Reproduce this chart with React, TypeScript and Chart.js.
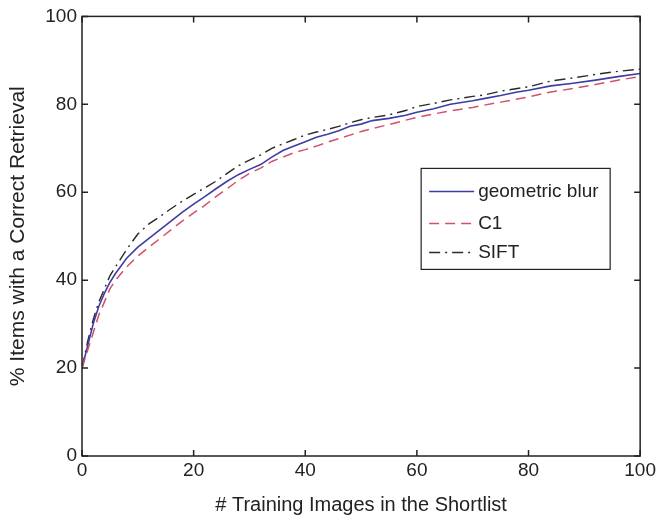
import React, { useEffect, useRef } from 'react';
import { Chart, registerables } from 'chart.js';

Chart.register(...registerables);

// ---- Data ----
const shortlistSizes = [0, 1, 2, 3, 4, 5, 6, 8, 10, 12, 14, 16, 18, 20, 22, 24, 26, 28, 30, 32, 34, 36, 38, 40, 42, 44, 46, 48, 50, 52, 55, 58, 60, 63, 66, 70, 72, 75, 78, 80, 84, 88, 92, 96, 100];
const geometricBlur = [20, 25, 30, 34, 37, 39.5, 41.5, 45, 47.5, 49.5, 51.5, 53.5, 55.5, 57.3, 59, 60.8, 62.5, 64, 65.2, 66.3, 68, 69.5, 70.5, 71.5, 72.5, 73.2, 74, 75, 75.5, 76.3, 76.8, 77.5, 78.2, 79, 80, 80.8, 81.3, 82, 82.8, 83.2, 84.2, 84.8, 85.5, 86.3, 87];
const c1 = [20, 24, 28, 32, 35, 38, 40, 43, 45.5, 47.5, 49.5, 51.5, 53.5, 55.3, 57, 59, 60.8, 62.7, 64.3, 65.5, 67, 68, 69, 69.7, 70.5, 71.4, 72.2, 73, 73.8, 74.5, 75.4, 76.4, 77, 77.8, 78.5, 79.3, 79.8, 80.5, 81.2, 81.7, 82.8, 83.6, 84.5, 85.5, 86.3];
const sift = [20, 26, 31, 35, 38, 41, 43, 47, 50.5, 52.8, 54.5, 56.3, 58, 59.5, 61, 62.5, 64.3, 66, 67.3, 68.5, 70, 71, 72, 73, 73.7, 74.3, 75, 75.8, 76.5, 77, 77.6, 78.6, 79.5, 80.2, 81, 81.8, 82.1, 83, 83.6, 84, 85.3, 86, 86.8, 87.5, 88];
const seriesLabels = ['geometric blur', 'C1', 'SIFT'];
const xTicks = [0, 20, 40, 60, 80, 100];
const yTicks = [0, 20, 40, 60, 80, 100];
const xTitle = '# Training Images in the Shortlist';
const yTitle = '% Items with a Correct Retrieval';

const W = 659;
const H = 517;
const FONT = "'Liberation Sans', Arial, Helvetica, sans-serif";
const TEXT = '#222';

const styles = [
  { color: '#3d3da3', dash: [] as number[] },
  { color: '#d4506a', dash: [10, 6] },
  { color: '#2a2a2a', dash: [11, 5, 2, 5] },
];

const toPts = (ys: number[]) => shortlistSizes.map((x, i) => ({ x, y: ys[i] }));

const framePlugin = {
  id: 'frameAndLegend',
  afterDatasetsDraw(chart: any) {
    const { ctx, chartArea, scales } = chart;
    const { left, right, top, bottom } = chartArea;
    const xs = scales.x;
    const ys = scales.y;
    ctx.save();
    ctx.strokeStyle = '#222';
    ctx.lineWidth = 1.5;
    ctx.setLineDash([]);
    ctx.strokeRect(left, top, right - left, bottom - top);
    const tl = 6;
    ctx.beginPath();
    for (const v of xTicks) {
      const px = xs.getPixelForValue(v);
      ctx.moveTo(px, bottom);
      ctx.lineTo(px, bottom - tl);
      ctx.moveTo(px, top);
      ctx.lineTo(px, top + tl);
    }
    for (const v of yTicks) {
      const py = ys.getPixelForValue(v);
      ctx.moveTo(left, py);
      ctx.lineTo(left + tl, py);
      ctx.moveTo(right, py);
      ctx.lineTo(right - tl, py);
    }
    ctx.stroke();

    // legend
    const bx = right - 219;
    const by = top + 152;
    const bw = 189;
    const bh = 101;
    ctx.fillStyle = '#fff';
    ctx.fillRect(bx, by, bw, bh);
    ctx.lineWidth = 1.2;
    ctx.strokeStyle = '#222';
    ctx.strokeRect(bx, by, bw, bh);
    ctx.font = `19px ${FONT}`;
    ctx.textBaseline = 'middle';
    ctx.textAlign = 'left';
    const rowsY = [23, 55, 84];
    seriesLabels.forEach((lab, i) => {
      const yy = by + rowsY[i];
      ctx.strokeStyle = styles[i].color;
      ctx.lineWidth = 1.5;
      ctx.setLineDash(styles[i].dash);
      ctx.beginPath();
      ctx.moveTo(bx + 8, yy);
      ctx.lineTo(bx + 53, yy);
      ctx.stroke();
      ctx.setLineDash([]);
      ctx.fillStyle = TEXT;
      ctx.fillText(lab, bx + 57, yy);
    });
    ctx.restore();
  },
};

export default function App() {
  const ref = useRef<HTMLCanvasElement>(null);
  useEffect(() => {
    if (!ref.current) return;
    const chart = new Chart(ref.current, {
      type: 'line',
      data: {
        datasets: [
          { label: seriesLabels[1], data: toPts(c1), borderColor: styles[1].color, borderDash: styles[1].dash, borderWidth: 1.5, pointRadius: 0, tension: 0, fill: false },
          { label: seriesLabels[0], data: toPts(geometricBlur), borderColor: styles[0].color, borderDash: styles[0].dash, borderWidth: 1.6, pointRadius: 0, tension: 0, fill: false },
          { label: seriesLabels[2], data: toPts(sift), borderColor: styles[2].color, borderDash: styles[2].dash, borderWidth: 1.4, pointRadius: 0, tension: 0, fill: false },
        ],
      },
      options: {
        responsive: false,
        animation: false,
        layout: { padding: { top: 14, right: 16, left: 0, bottom: 0 } },
        plugins: { legend: { display: false }, tooltip: { enabled: false } },
        scales: {
          x: {
            type: 'linear',
            min: 0,
            max: 100,
            afterFit: (s: any) => { s.height = 61; },
            afterBuildTicks: (s: any) => { s.ticks = xTicks.map((v) => ({ value: v })); },
            grid: { display: false, drawTicks: false },
            border: { display: false },
            ticks: { color: TEXT, font: { family: FONT, size: 19 }, padding: 3, maxRotation: 0 },
            title: { display: true, text: xTitle, color: TEXT, font: { family: FONT, size: 20 }, padding: { top: 6, bottom: 0 } },
          },
          y: {
            type: 'linear',
            min: 0,
            max: 100,
            afterFit: (s: any) => { s.width = 82; },
            afterBuildTicks: (s: any) => { s.ticks = yTicks.map((v) => ({ value: v })); },
            grid: { display: false, drawTicks: false },
            border: { display: false },
            ticks: { color: TEXT, font: { family: FONT, size: 19 }, padding: 5 },
            title: { display: true, text: yTitle, color: TEXT, font: { family: FONT, size: 21 }, padding: { top: 6, bottom: 0 } },
          },
        },
      },
      plugins: [framePlugin],
    });
    return () => chart.destroy();
  }, []);
  return (
    <div style={{ position: 'absolute', left: 0, top: 0, width: W, height: H, background: '#fff' }}>
      <canvas ref={ref} width={W} height={H} style={{ display: 'block', width: W, height: H }} />
    </div>
  );
}
